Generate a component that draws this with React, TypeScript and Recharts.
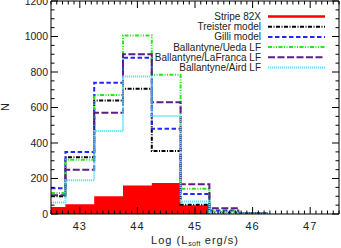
import React from 'react';
import { ComposedChart, Line, Area, XAxis, YAxis, Legend } from 'recharts';

// Bin left edges in Log(L_soft) (first bin clipped by the axis at 42.5), final entry closes the last bin
const binEdges = [42.5, 42.75, 43.25, 43.75, 44.25, 44.75, 45.25, 45.75, 46.25];
const stripe82x = [40, 55, 100, 160, 175, 50, 0, 0, 0];
const treister = [100, 320, 640, 705, 355, 52, 8, 3, 0];
const gilli = [145, 350, 740, 880, 480, 112, 20, 4, 0];
const ballantyneUeda = [118, 305, 670, 1005, 785, 142, 14, 3, 0];
const ballantyneLaFranca = [105, 250, 570, 900, 630, 167, 32, 4, 0];
const ballantyneAird = [65, 190, 467, 775, 552, 70, 8, 3, 0];

const xMajorTicks = [43, 44, 45, 46, 47];
const yMajorTicks = [0, 200, 400, 600, 800, 1000, 1200];
const xDomain: [number, number] = [42.5, 47.5];
const yDomain: [number, number] = [0, 1200];

const xTicks: number[] = [];
for (let i = 0; i <= 50; i++) xTicks.push(Math.round((xDomain[0] + i * 0.1) * 10) / 10);
const yTicks: number[] = [];
for (let v = yDomain[0]; v <= yDomain[1]; v += 50) yTicks.push(v);

const data = binEdges.map((x, i) => ({
  x,
  stripe: stripe82x[i],
  treister: treister[i],
  gilli: gilli[i],
  ueda: ballantyneUeda[i],
  lafranca: ballantyneLaFranca[i],
  aird: ballantyneAird[i],
}));

const series = [
  { key: 'treister', name: 'Treister model', color: '#000000', dash: '4 1.5 1 1.5' },
  { key: 'gilli', name: 'Gilli model', color: '#2424ff', dash: '4.5 2.5' },
  { key: 'ueda', name: 'Ballantyne/Ueda LF', color: '#28e61e', dash: '4 1.5 1 1.5 1 1.5' },
  { key: 'lafranca', name: 'Ballantyne/LaFranca LF', color: '#5a1e84', dash: '7 2.5' },
  { key: 'aird', name: 'Ballantyne/Aird LF', color: '#5ae0ff', dash: '1.2 0.8' },
];

const FONT = '"Liberation Sans", Arial, Helvetica, sans-serif';
const TXT = '#222';

const isMajor = (v: number, majors: number[]) => majors.some((t) => Math.abs(t - v) < 1e-6);

const BottomTick = (props: any) => {
  const { x, y, payload } = props;
  const major = isMajor(payload.value, xMajorTicks);
  return (
    <g>
      <line x1={x} x2={x} y1={y} y2={y - (major ? 7 : 3.5)} stroke="#000" strokeWidth={1} />
      {major && (
        <text x={x} y={y + 16} textAnchor="middle" fontSize={11} fontFamily={FONT} fill={TXT} letterSpacing={1}>
          {payload.value}
        </text>
      )}
    </g>
  );
};

const TopTick = (props: any) => {
  const { x, y, payload } = props;
  const major = isMajor(payload.value, xMajorTicks);
  return <line x1={x} x2={x} y1={y} y2={y + (major ? 7 : 3.5)} stroke="#000" strokeWidth={1} />;
};

const LeftTick = (props: any) => {
  const { x, y, payload } = props;
  const major = isMajor(payload.value, yMajorTicks);
  return (
    <g>
      <line x1={x} x2={x + (major ? 7 : 3.5)} y1={y} y2={y} stroke="#000" strokeWidth={1} />
      {major && (
        <text x={x - 3} y={y + 3.6} textAnchor="end" fontSize={10.5} fontFamily={FONT} fill={TXT}>
          {payload.value}
        </text>
      )}
    </g>
  );
};

const RightTick = (props: any) => {
  const { x, y, payload } = props;
  const major = isMajor(payload.value, yMajorTicks);
  return <line x1={x} x2={x - (major ? 7 : 3.5)} y1={y} y2={y} stroke="#000" strokeWidth={1} />;
};

const legendItems = [
  { name: 'Stripe 82X', color: '#ff0000', dash: undefined as string | undefined, width: 2.5 },
  ...series.map((s) => ({ name: s.name, color: s.color, dash: s.dash as string | undefined, width: 2 })),
];

const LegendContent = () => (
  <svg width={195} height={68} style={{ display: 'block' }}>
    {legendItems.map((it, i) => {
      const cy = 6.5 + i * 10.2;
      return (
        <g key={it.name}>
          <text x={121} y={cy + 3.5} textAnchor="end" fontSize={10} fontFamily={FONT} fill={TXT}>
            {it.name}
          </text>
          <line x1={128} x2={185} y1={cy} y2={cy} stroke={it.color} strokeWidth={it.width} strokeDasharray={it.dash} />
        </g>
      );
    })}
  </svg>
);

export default function App() {
  return (
    <div style={{ position: 'absolute', left: 0, top: 0, width: 341, height: 248, background: '#fff' }}>
      <ComposedChart width={341} height={248} data={data} margin={{ top: 0, right: 1, bottom: 33, left: 0 }}>
        <XAxis
          dataKey="x"
          type="number"
          domain={xDomain}
          ticks={xTicks}
          interval={0}
          allowDataOverflow
          height={1}
          tickSize={0}
          tickMargin={0}
          tickLine={false}
          tick={<BottomTick />}
          axisLine={{ stroke: '#000' }}
        />
        <XAxis
          xAxisId="top"
          orientation="top"
          dataKey="x"
          type="number"
          domain={xDomain}
          ticks={xTicks}
          interval={0}
          allowDataOverflow
          height={1}
          tickSize={0}
          tickMargin={0}
          tickLine={false}
          tick={<TopTick />}
          axisLine={{ stroke: '#000' }}
        />
        <YAxis
          type="number"
          domain={yDomain}
          ticks={yTicks}
          interval={0}
          allowDataOverflow
          width={51}
          tickSize={0}
          tickMargin={0}
          tickLine={false}
          tick={<LeftTick />}
          axisLine={{ stroke: '#000' }}
        />
        <YAxis
          yAxisId="right"
          orientation="right"
          type="number"
          domain={yDomain}
          ticks={yTicks}
          interval={0}
          allowDataOverflow
          width={1}
          tickSize={0}
          tickMargin={0}
          tickLine={false}
          tick={<RightTick />}
          axisLine={{ stroke: '#000' }}
        />
        <Area
          type="stepAfter"
          dataKey="stripe"
          name="Stripe 82X"
          stroke="none"
          fill="#ff0000"
          fillOpacity={1}
          isAnimationActive={false}
          dot={false}
          activeDot={false}
        />
        {series.map((s) => (
          <Line
            key={s.key}
            type="stepAfter"
            dataKey={s.key}
            name={s.name}
            stroke={s.color}
            strokeWidth={2}
            strokeDasharray={s.dash}
            dot={false}
            activeDot={false}
            isAnimationActive={false}
          />
        ))}
        <Legend
          layout="vertical"
          align="center"
          verticalAlign="middle"
          content={<LegendContent />}
          wrapperStyle={{ position: 'absolute', top: 10, left: 140, width: 195, height: 68 }}
        />
      </ComposedChart>
      <svg width={341} height={248} style={{ position: 'absolute', left: 0, top: 0, pointerEvents: 'none' }}>
        <text
          x={5}
          y={107}
          transform="rotate(-90 5 107)"
          textAnchor="middle"
          dominantBaseline="central"
          fontSize={11}
          fontFamily={FONT}
          fill={TXT}
        >
          N
        </text>
        <text x={195} y={244} textAnchor="middle" fontSize={11} fontFamily={FONT} fill={TXT} letterSpacing={1}>
          Log (L
          <tspan fontSize={7} dy={2} letterSpacing={0.3}>soft</tspan>
          <tspan dy={-2}> erg/s)</tspan>
        </text>
      </svg>
    </div>
  );
}
